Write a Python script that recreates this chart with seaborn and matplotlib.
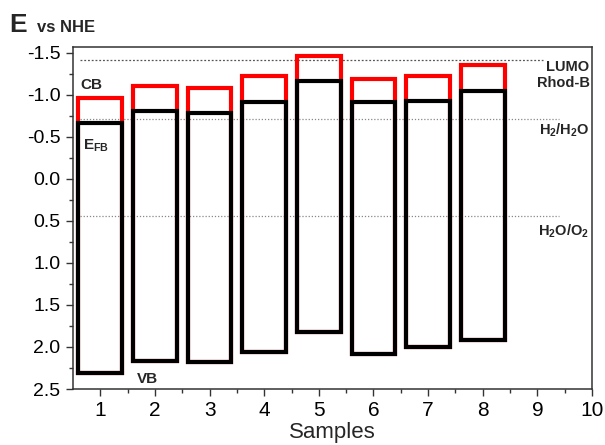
import matplotlib
matplotlib.use("Agg")
import matplotlib.pyplot as plt
import seaborn as sns
import numpy as np

samples = [1, 2, 3, 4, 5, 6, 7, 8]
cb = [-0.96, -1.11, -1.08, -1.23, -1.46, -1.19, -1.23, -1.36]
efb = [-0.67, -0.81, -0.78, -0.92, -1.16, -0.91, -0.93, -1.05]
vb = [2.31, 2.17, 2.18, 2.06, 1.82, 2.08, 2.00, 1.92]
ref_levels = [-1.42, -0.71, 0.44]
yticks = [-1.5, -1.0, -0.5, 0.0, 0.5, 1.0, 1.5, 2.0, 2.5]
xticks = [1, 2, 3, 4, 5, 6, 7, 8, 9, 10]

sns.set_style("ticks")
plt.rcParams['font.family'] = ['Liberation Sans', 'DejaVu Sans']
plt.rcParams['mathtext.fontset'] = 'custom'
plt.rcParams['mathtext.rm'] = 'Liberation Sans:bold'
plt.rcParams['mathtext.bf'] = 'Liberation Sans:bold'
plt.rcParams['mathtext.it'] = 'Liberation Sans:bold'
plt.rcParams['mathtext.default'] = 'bf'

fig = plt.figure(figsize=(6.05, 4.45), dpi=100)
ax = fig.add_axes([73/605, 56/445, (592-73)/605, (389-47)/445])

x = np.array(samples)
cb_a, efb_a, vb_a = np.array(cb), np.array(efb), np.array(vb)
ax.bar(x, cb_a - vb_a, bottom=vb_a, width=0.8, fill=False, edgecolor='#ff0000', linewidth=3, zorder=2)
ax.bar(x, efb_a - vb_a, bottom=vb_a, width=0.8, fill=False, edgecolor='black', linewidth=3, zorder=3)

ax.hlines(ref_levels[0], 0.63, 9.1, colors='#555555', linestyles=(0, (1.5, 1.5)), linewidth=0.9, zorder=1)
ax.hlines(ref_levels[1], 0.63, 9.4, colors='#888888', linestyles=(0, (1, 1.5)), linewidth=0.9, zorder=1)
ax.hlines(ref_levels[2], 0.63, 9.4, colors='#888888', linestyles=(0, (1, 1.5)), linewidth=0.9, zorder=1)

ax.set_xlim(0.5, 10)
ax.set_ylim(2.5, -1.57)
ax.set_yticks(yticks)
ax.set_yticklabels([f"{v:.1f}" for v in yticks])
ax.set_yticks(np.arange(-1.25, 2.5, 0.5), minor=True)
ax.set_xticks(xticks)
ax.set_xticks(np.arange(1.5, 10, 1.0), minor=True)
ax.tick_params(axis='both', which='major', length=5, width=1, direction='out', colors='#333333', labelcolor='black')
ax.tick_params(axis='y', which='major', labelsize=14, pad=4)
ax.tick_params(axis='x', which='major', labelsize=15, pad=4)
ax.tick_params(axis='both', which='minor', length=3, width=1, direction='out', colors='#333333')
for s in ax.spines.values():
    s.set_linewidth(1.1)
    s.set_color('#333333')
ax.set_xlabel("Samples", fontsize=16, labelpad=1)

fs = 10.5
tr = ax.get_yaxis_transform()
ax.text(0.995, -1.33, "LUMO", ha='right', va='center', fontsize=fs, fontweight='bold', transform=tr)
ax.text(0.995, -1.14, "Rhod-B", ha='right', va='center', fontsize=fs, fontweight='bold', transform=tr)
ax.text(0.995, -0.58, r"H$_2$/H$_2$O", ha='right', va='center', fontsize=fs, fontweight='bold', transform=tr)
ax.text(0.995, 0.62, r"H$_2$O/O$_2$", ha='right', va='center', fontsize=fs, fontweight='bold', transform=tr)
ax.text(0.64, -1.12, "CB", ha='left', va='center', fontsize=11, fontweight='bold')
ax.text(0.68, -0.40, r"E$_{FB}$", ha='left', va='center', fontsize=11, fontweight='bold')
ax.text(1.67, 2.38, "VB", ha='left', va='center', fontsize=11, fontweight='bold')

fig.text(9/605, 1 - 32/445, r"$\mathbf{E}$", fontsize=19, ha='left', va='baseline')
fig.text(37/605, 1 - 32/445, "vs NHE", fontsize=12, fontweight='bold', ha='left', va='baseline')

fig.savefig("out.png", dpi=100)
